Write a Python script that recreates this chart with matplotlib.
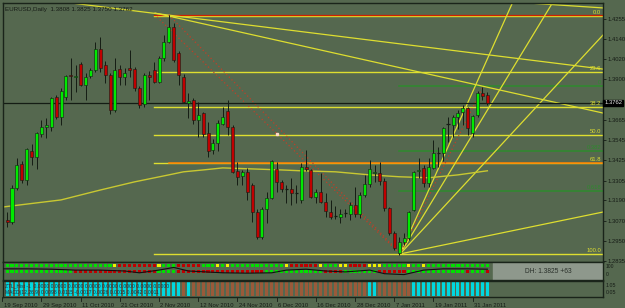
import matplotlib
matplotlib.use("Agg")
import matplotlib.pyplot as plt

plt.rcParams['font.family'] = ['Liberation Sans', 'DejaVu Sans']

# ---- price data (daily bars, index 1..99) ----
opens = [1.3075, 1.3064, 1.3263, 1.3405, 1.3311, 1.3481, 1.3446, 1.3580, 1.3621, 1.3621,
         1.3797, 1.3680, 1.3797, 1.3925, 1.3914, 1.3991, 1.3868, 1.3920, 1.3955, 1.4079,
         1.3985, 1.3926, 1.3721, 1.3961, 1.3914, 1.3967, 1.3961, 1.3850, 1.3756, 1.3926,
         1.3955, 1.3885, 1.4026, 1.4120, 1.4208, 1.4055, 1.3914, 1.3762, 1.3780, 1.3662,
         1.3703, 1.3586, 1.3486, 1.3527, 1.3639, 1.3715, 1.3621, 1.3364, 1.3334, 1.3358,
         1.3281, 1.3123, 1.2975, 1.3140, 1.3205, 1.3375, 1.3299, 1.3260, 1.3257, 1.3236,
         1.3193, 1.3387, 1.3369, 1.3211, 1.3240, 1.3181, 1.3123, 1.3099, 1.3093, 1.3117,
         1.3111, 1.3163, 1.3111, 1.3222, 1.3287, 1.3352, 1.3352, 1.3305, 1.3146, 1.2999,
         1.2881, 1.2946, 1.2970, 1.3134, 1.3364, 1.3381, 1.3292, 1.3381, 1.3466, 1.3469,
         1.3636, 1.3633, 1.3680, 1.3709, 1.3733, 1.3586, 1.3692, 1.3821, 1.3808]
highs = [1.3123, 1.3281, 1.3440, 1.3420, 1.3498, 1.3520, 1.3592, 1.3660, 1.3674, 1.3800,
         1.3810, 1.3850, 1.3926, 1.4026, 1.3985, 1.4000, 1.3940, 1.3967, 1.4120, 1.4149,
         1.4010, 1.3940, 1.4026, 1.3985, 1.3967, 1.4073, 1.3973, 1.3860, 1.3940, 1.3950,
         1.4000, 1.4040, 1.4160, 1.4280, 1.4230, 1.4070, 1.3930, 1.3821, 1.3790, 1.3768,
         1.3710, 1.3651, 1.3550, 1.3660, 1.3740, 1.3780, 1.3630, 1.3417, 1.3370, 1.3381,
         1.3290, 1.3140, 1.3150, 1.3240, 1.3428, 1.3417, 1.3310, 1.3281, 1.3323, 1.3281,
         1.3410, 1.3486, 1.3375, 1.3260, 1.3352, 1.3234, 1.3193, 1.3160, 1.3140, 1.3140,
         1.3181, 1.3269, 1.3240, 1.3340, 1.3428, 1.3400, 1.3417, 1.3320, 1.3150, 1.3010,
         1.2975, 1.2999, 1.3130, 1.3364, 1.3440, 1.3400, 1.3440, 1.3545, 1.3504, 1.3621,
         1.3680, 1.3692, 1.3721, 1.3750, 1.3740, 1.3692, 1.3830, 1.3855, 1.3825]
lows = [1.3034, 1.3050, 1.3251, 1.3290, 1.3281, 1.3400, 1.3375, 1.3560, 1.3556, 1.3600,
        1.3670, 1.3633, 1.3780, 1.3780, 1.3826, 1.3860, 1.3780, 1.3910, 1.3944, 1.3944,
        1.3880, 1.3700, 1.3710, 1.3870, 1.3870, 1.3914, 1.3830, 1.3730, 1.3740, 1.3780,
        1.3880, 1.3880, 1.4010, 1.4114, 1.4000, 1.3870, 1.3760, 1.3674, 1.3640, 1.3562,
        1.3562, 1.3446, 1.3460, 1.3480, 1.3630, 1.3574, 1.3350, 1.3281, 1.3281, 1.3193,
        1.3064, 1.2965, 1.2965, 1.3058, 1.3200, 1.3240, 1.3240, 1.3175, 1.3163, 1.3175,
        1.3175, 1.3364, 1.3205, 1.3175, 1.3175, 1.3090, 1.3080, 1.3080, 1.3060, 1.3090,
        1.3075, 1.3093, 1.3085, 1.3211, 1.3269, 1.3300, 1.3281, 1.3128, 1.2990, 1.2900,
        1.2868, 1.2928, 1.2960, 1.3130, 1.3323, 1.3269, 1.3269, 1.3375, 1.3387, 1.3422,
        1.3533, 1.3562, 1.3610, 1.3630, 1.3574, 1.3562, 1.3680, 1.3780, 1.3750]
closes = [1.3064, 1.3263, 1.3399, 1.3311, 1.3492, 1.3446, 1.3586, 1.3621, 1.3633, 1.3791,
          1.3680, 1.3832, 1.3920, 1.3920, 1.3920, 1.3868, 1.3914, 1.3955, 1.4079, 1.3967,
          1.3926, 1.3721, 1.3955, 1.3914, 1.3938, 1.3955, 1.3850, 1.3750, 1.3926, 1.3914,
          1.3885, 1.4026, 1.4120, 1.4208, 1.4014, 1.3926, 1.3768, 1.3774, 1.3662, 1.3692,
          1.3580, 1.3481, 1.3527, 1.3645, 1.3680, 1.3621, 1.3358, 1.3329, 1.3358, 1.3240,
          1.3123, 1.2975, 1.3140, 1.3205, 1.3422, 1.3299, 1.3257, 1.3257, 1.3234, 1.3234,
          1.3387, 1.3375, 1.3211, 1.3240, 1.3181, 1.3128, 1.3093, 1.3099, 1.3111, 1.3120,
          1.3163, 1.3111, 1.3222, 1.3287, 1.3375, 1.3358, 1.3305, 1.3146, 1.2999, 1.2911,
          1.2946, 1.2970, 1.3123, 1.3358, 1.3369, 1.3292, 1.3387, 1.3469, 1.3469, 1.3615,
          1.3639, 1.3680, 1.3703, 1.3733, 1.3615, 1.3686, 1.3821, 1.3803, 1.3762]
bars = list(range(1, len(closes) + 1))

# moving average read at a few bars
ma_idx = [0, 12, 20, 27, 34, 37, 41, 45, 51, 57, 61, 68, 75, 81, 87, 93, 99]
ma_val = [1.3151, 1.3193, 1.3251, 1.3299, 1.3340, 1.3358, 1.3369, 1.3381, 1.3375,
          1.3369, 1.3364, 1.3358, 1.3340, 1.3329, 1.3323, 1.3340, 1.3364]

# fibonacci (high -> low) and small green fib (low -> recent high)
fib_levels = [0.0, 23.6, 38.2, 50.0, 61.8, 100.0]
fib_high, fib_low, fib_start = 1.4274, 1.2876, 31
gfib_levels = [0.0, 0.382, 0.618]
gfib_top, gfib_bot, gfib_start = 1.3862, 1.2867, 81

# trendlines: (bar, price) anchor pairs
trend_lines = [((12.4, 1.4355), (122.6, 1.3961)),
               ((31.2, 1.4290), (122.6, 1.3703)),
               ((87.3, 1.4387), (122.6, 1.4320))]
fan_origin = (81.2, 1.2876)
fan_ends = [(104.2, 1.4355), (112.4, 1.4355), (122.6, 1.4161), (122.6, 1.3122)]
zigzag = [((31.6, 1.4267), (81.2, 1.2876)),
          ((34.0, 1.4279), (80.2, 1.2911)),
          ((81.2, 1.2876), (98.1, 1.3856))]

price_ticks = [1.4255, 1.4140, 1.4020, 1.3900, 1.3665, 1.3545, 1.3425,
               1.3305, 1.3190, 1.3070, 1.2950, 1.2835]
date_idx = [0, 8, 16, 24, 32, 40, 48, 56, 64, 72, 80, 88, 96]
date_labels = ["19 Sep 2010", "29 Sep 2010", "11 Oct 2010", "21 Oct 2010", "2 Nov 2010",
               "12 Nov 2010", "24 Nov 2010", "6 Dec 2010", "16 Dec 2010", "28 Dec 2010",
               "7 Jan 2011", "19 Jan 2011", "31 Jan 2011"]

# indicator panel colours, one letter per bar
row_top = "G" * 22 + "Y" + "R" * 8 + "Y" + "G" * 3 + "R" * 5 + "G" * 3 + "YGY" + "G" * 11 + "Y" + \
          "R" * 6 + "Y" + "G" * 3 + "YY" + "R" * 4 + "YYY" + "G" * 5 + "Y" + "GG" + "Y" + "G" * 13
row_bot = "G" * 14 + "R" * 17 + "G" * 4 + "R" * 18 + "G" * 12 + "R" * 4 + "G" * 7 + "R" * 6 + \
          "G" * 12 + "R" + "GGG" + "R"
osc_idx = [0, 5, 10, 15, 20, 25, 28, 32, 35, 38, 45, 50, 55, 58, 62, 66, 70, 75, 78, 82, 86, 90, 95, 99]
osc_val = [0.62, 0.62, 0.60, 0.55, 0.55, 0.50, 0.40, 0.55, 0.70, 0.50, 0.40, 0.38, 0.40, 0.55,
           0.60, 0.50, 0.45, 0.55, 0.35, 0.30, 0.55, 0.62, 0.62, 0.60]
hist_col = "C" * 36 + "B" + "C" + "B" * 36 + "CC" + "B" * 7 + "C" * 16

BG = "#55684f"
EDGE = "#1a241a"
YEL = "#dede30"
DARK = "#141c14"
TXT = "#161c16"
FS = 4.2
sq_col = {"G": "#00e000", "R": "#c00000", "Y": "#f0f000"}
h_col = {"C": "#00d8e0", "B": "#9a5a3a"}

XL = (0.16, 122.6)
fig = plt.figure(figsize=(6.25, 3.08), dpi=100, facecolor=BG)
ax = fig.add_axes([3 / 625, 1 - 262 / 308, 600 / 625, 259 / 308])
ax1 = fig.add_axes([3 / 625, 1 - 280 / 308, 600 / 625, 18 / 308])
ax2 = fig.add_axes([3 / 625, 1 - 297 / 308, 600 / 625, 16 / 308])
for a in (ax, ax1, ax2):
    a.set_facecolor(BG)
    a.set_xlim(*XL)
    a.set_xticks([])
    for s in a.spines.values():
        s.set_color(EDGE)
        s.set_linewidth(1)

ax.set_ylim(1.28286, 1.4349)

# fib lines
for lv in fib_levels:
    p = fib_high - (fib_high - fib_low) * lv / 100
    ax.plot([fib_start, XL[1]], [p, p], color=YEL, lw=1, zorder=2)
    ax.text(122.2, p + 0.0003, f"{lv:.1f}", color=YEL, fontsize=FS, ha="right", va="bottom", zorder=6)
ax.plot([fib_start, XL[1]], [fib_high + 0.0005, fib_high + 0.0005], color="#d02000", lw=0.9, zorder=2)
p618 = fib_high - (fib_high - fib_low) * 0.618
ax.plot([34, XL[1]], [p618, p618], color="#ff8000", lw=1.1, zorder=2)
for lv in gfib_levels:
    p = gfib_top - (gfib_top - gfib_bot) * lv
    ax.plot([gfib_start, XL[1]], [p, p], color="#2e8a2e", lw=1.1, zorder=2)
    ax.text(122.2, p + 0.0003, f"{lv:g}", color="#2e8a2e", fontsize=FS, ha="right", va="bottom", zorder=6)

# trendlines, fan, zigzag
for (x0, y0), (x1, y1) in trend_lines:
    ax.plot([x0, x1], [y0, y1], color=YEL, lw=0.9, zorder=2)
for x1, y1 in fan_ends:
    ax.plot([fan_origin[0], x1], [fan_origin[1], y1], color=YEL, lw=0.9, zorder=2)
for (x0, y0), (x1, y1) in zigzag:
    ax.plot([x0, x1], [y0, y1], color="#c04028", lw=0.9, ls=(0, (1, 2)), zorder=2)
ax.plot([56.1], [1.3580], marker="s", ms=1.5, color="#ffd8c8", zorder=6)

ax.plot(ma_idx, ma_val, color="#c8c832", lw=1, zorder=2)
ax.axhline(closes[-1], color=DARK, lw=0.9, zorder=2)

# candles
for i, o, h, l, c in zip(bars, opens, highs, lows, closes):
    ax.vlines(i, l, h, color=DARK, lw=0.7, zorder=3)
    if abs(c - o) < 0.0004:
        ax.hlines((o + c) / 2, i - 0.35, i + 0.35, color=DARK, lw=0.9, zorder=4)
    else:
        ax.bar(i, abs(c - o), bottom=min(o, c), width=0.62,
               color="#00ea00" if c > o else "#c00000", edgecolor=DARK, lw=0.4, zorder=4)

ax.yaxis.tick_right()
ax.set_yticks(price_ticks)
ax.set_yticklabels([f"{v:.4f}" for v in price_ticks])
ax.tick_params(axis="y", colors=TXT, labelsize=FS, length=2, width=0.6, pad=1)
for lab in ax.get_yticklabels():
    lab.set_color(TXT)
ax.text(1.002, closes[-1], f"{closes[-1]:.4f}", transform=ax.get_yaxis_transform(),
        fontsize=FS, color="#e8e8e8", va="center", ha="left",
        bbox=dict(boxstyle="square,pad=0.15", fc="#000000", ec="#000000"))
ax.text(0.004, 0.985, "EURUSD,Daily  1.3808 1.3825 1.3750 1.3762", transform=ax.transAxes,
        fontsize=4.5, color=TXT, va="top", ha="left")

# indicator panel 1
ax1.set_ylim(0, 1)
ax1.set_yticks([])
ax1.scatter(bars, [0.83] * len(bars), marker="s", s=5, c=[sq_col[k] for k in row_top], lw=0, zorder=3)
ax1.scatter(bars, [0.47] * len(bars), marker="s", s=5, c=[sq_col[k] for k in row_bot], lw=0, zorder=3)
ax1.plot(osc_idx, osc_val, color="#101010", lw=0.8, zorder=4)
ax1.axvspan(100.2, XL[1], color="#8e988c", zorder=1)
ax1.text(111.5, 0.45, "DH: 1.3825 +63", fontsize=4.8, color="#2a302a", ha="center", va="center", zorder=5)
ax1.text(1.004, 0.75, "100", transform=ax1.transAxes, fontsize=3.6, color=TXT, va="center")
ax1.text(1.004, 0.3, "0", transform=ax1.transAxes, fontsize=3.6, color=TXT, va="center")

# indicator panel 2
ax2.set_ylim(0, 1)
ax2.set_yticks([])
ax2.bar(bars, [0.9] * len(bars), bottom=0.05, width=0.6, color=[h_col[k] for k in hist_col], lw=0)
ax2.text(0.003, 0.68, "ZTL_Hist -1  0.0000 0.0000 0.0000 0.0000 0.0000 0.0000 0.0000 0.0000",
         transform=ax2.transAxes, fontsize=3.6, color="#1a3040", va="center")
ax2.text(0.003, 0.3, "MACD(12,26,9) 0.0098 0.0115 -0.0017 0.0026 0.0015 0.0042 0.0011",
         transform=ax2.transAxes, fontsize=3.6, color="#1a3040", va="center")
ax2.text(1.004, 0.72, "1.05", transform=ax2.transAxes, fontsize=3.8, color=TXT, va="center")
ax2.text(1.004, 0.25, "0.05", transform=ax2.transAxes, fontsize=3.8, color=TXT, va="center")

# date axis
for i, lab in zip(date_idx, date_labels):
    ax2.plot([i, i], [-0.25, 0], color=TXT, lw=0.6, clip_on=False)
    ax2.text(i + 0.3, -0.35, lab, fontsize=FS, color=TXT, ha="left", va="top")

fig.savefig("out.png", dpi=100, facecolor=BG)
